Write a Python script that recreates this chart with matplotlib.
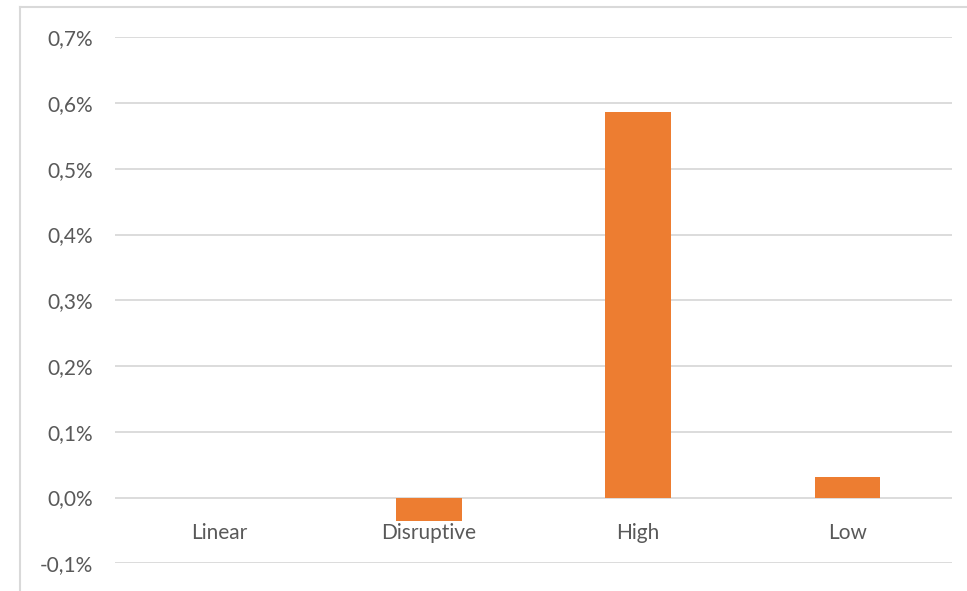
import matplotlib
matplotlib.use("Agg")
import matplotlib.pyplot as plt
from matplotlib.lines import Line2D
from matplotlib.ticker import FuncFormatter

categories = ["Linear", "Disruptive", "High", "Low"]
values = [0.0, -0.035, 0.586, 0.032]  # percent
y_ticks = [-0.1, 0.0, 0.1, 0.2, 0.3, 0.4, 0.5, 0.6, 0.7]

W, H = 967, 591
fig = plt.figure(figsize=(W / 100, H / 100), dpi=100)
fig.patch.set_facecolor("white")

ax_left, ax_right = 115 / W, 952 / W
ax_bottom, ax_top = (H - 563.3) / H, (H - 37.3) / H
ax = fig.add_axes([ax_left, ax_bottom, ax_right - ax_left, ax_top - ax_bottom])

text_color = "#595959"
grid_color = "#D9D9D9"
font = ["Lato", "DejaVu Sans"]

x = list(range(len(categories)))
ax.bar(x, values, width=0.314, color="#ED7D31", zorder=3)

ax.set_xlim(-0.5, len(categories) - 0.5)
ax.set_ylim(-0.1, 0.7)
ax.set_yticks(y_ticks)
ax.yaxis.set_major_formatter(FuncFormatter(lambda v, p: f"{v:.1f}%".replace(".", ",")))
ax.yaxis.grid(True, color=grid_color, linewidth=1.3, zorder=0)
ax.tick_params(axis="y", length=0, pad=16, labelsize=15, labelcolor=text_color)

ax.set_xticks(x)
ax.set_xticklabels(categories)
ax.spines["bottom"].set_position(("data", 0))
ax.tick_params(axis="x", length=0, pad=18.5, labelsize=15, labelcolor=text_color)
for lab in ax.get_xticklabels() + ax.get_yticklabels():
    lab.set_family(font)

for s in ax.spines.values():
    s.set_visible(False)

# outer chart-area frame
fig.add_artist(Line2D([20 / W, 20 / W], [0, (H - 7) / H], color=grid_color, linewidth=1.5))
fig.add_artist(Line2D([20 / W, 1], [(H - 7) / H, (H - 7) / H], color=grid_color, linewidth=1.5))

fig.savefig("out.png", dpi=100)
